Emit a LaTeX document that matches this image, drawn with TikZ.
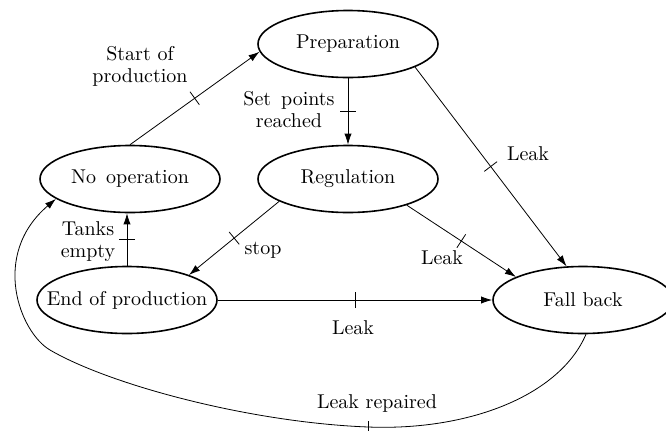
\documentclass[tikz,border=0pt]{standalone}
\usetikzlibrary{shapes.geometric,arrows.meta,decorations.markings}
\begin{document}
\begin{tikzpicture}[x=0.5pt,y=-0.5pt,
  state/.style={ellipse,draw,line width=0.8pt,minimum width=90pt,minimum height=33.5pt,inner sep=0pt},
  edge/.style={line width=0.4pt,-{Latex[length=5.5pt,width=3.6pt]}},
  ticked/.style={postaction={decorate,decoration={markings,mark=at position 0.5 with {\draw[-,line width=0.4pt] (0,-4pt) -- (0,4pt);}}}},
  lbl/.style={align=center,font=\fontsize{10}{11}\selectfont,inner sep=0pt}]
\useasboundingbox (0,0) rectangle (666,430);
\clip (0,0) rectangle (666,430);
\node[state] (prep) at (348,44) {\makebox[0pt]{Preparation}};
\node[state] (reg) at (348,179) {\makebox[0pt]{Regulation}};
\node[state] (noop) at (130,179) {\makebox[0pt]{No\, operation}};
\node[state] (eop) at (127,300) {\makebox[0pt]{End of production}};
\node[state] (fb) at (583,300) {\makebox[0pt]{Fall back}};

\draw[edge,ticked] (noop.north) -- (prep.185);
\draw[edge,ticked] (prep.south) -- (reg.north);
\draw[edge,ticked] (prep.-19.5) -- (fb.116);
\draw[edge,ticked] (reg.-24.5) -- (fb.161);
\draw[edge,ticked] (reg.198) -- (eop.22);
\draw[edge,ticked] (eop.north) -- (eop.north |- noop.south);
\draw[edge,ticked] (eop.east) -- (fb.west);
\draw[edge] (fb.-85) .. controls (560,395) and (470,431) .. (368,427) coordinate (lr)
  .. controls (250,422.4) and (110,385) .. (50,350)
  .. controls (20,332.5) and (-10,255) .. (noop.195);
\draw[line width=0.4pt] ([yshift=-4pt]lr) -- ([yshift=3pt]lr);

\node[lbl] (l1) at (140,66) {Start of\\production};
\node[lbl] (l2) at (289,110) {Set\, points\\reached};
\node[lbl] (l3) at (528,154) {Leak};
\node[lbl] (l4) at (442,258) {Leak};
\node[lbl] (l5) at (263,250) {stop};
\node[lbl] (l6) at (88,242) {Tanks\\empty};
\node[lbl] (l7) at (353,328) {Leak};
\node[lbl] (l8) at (377,403) {Leak repaired};
\end{tikzpicture}
\end{document}
